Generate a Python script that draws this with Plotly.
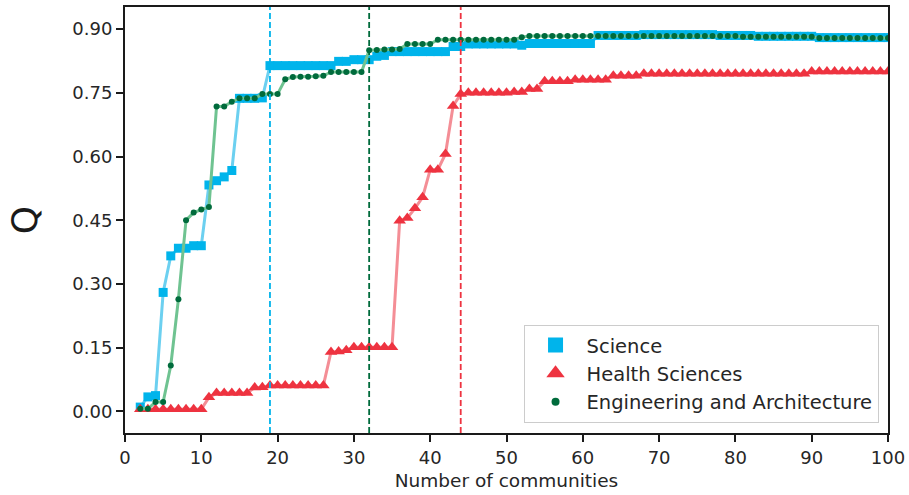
import plotly.graph_objects as go

x_communities = list(range(2, 101))

science = (
    [0.010, 0.034, 0.037, 0.280, 0.366, 0.384, 0.384, 0.390, 0.390,
     0.533, 0.543, 0.552, 0.567, 0.737, 0.737, 0.737, 0.738, 0.814]
    + [0.814] * 8
    + [0.824, 0.824, 0.828, 0.828, 0.828, 0.836, 0.838]
    + [0.847] * 8
    + [0.859, 0.859]
    + [0.865] * 7
    + [0.862]
    + [0.866] * 9
    + [0.885] * 6
    + [0.887] * 10
    + [0.885] * 5
    + [0.883] * 8
    + [0.880] * 10
)

health = (
    [0.005] * 9
    + [0.033]
    + [0.043] * 5
    + [0.056, 0.057]
    + [0.061] * 8
    + [0.140, 0.141, 0.144]
    + [0.151] * 6
    + [0.449, 0.455, 0.478, 0.504, 0.569, 0.569, 0.606, 0.719, 0.747]
    + [0.750] * 6
    + [0.752] * 2
    + [0.759] * 2
    + [0.777] * 4
    + [0.781] * 5
    + [0.790] * 4
    + [0.795] * 22
    + [0.800] * 11
)

engineering = (
    [0.006, 0.006, 0.022, 0.022, 0.108, 0.264, 0.450, 0.468, 0.475, 0.481,
     0.718, 0.718, 0.729, 0.737, 0.737, 0.737, 0.747, 0.747, 0.747,
     0.782, 0.787, 0.788, 0.788, 0.789, 0.790]
    + [0.799] * 5
    + [0.850, 0.851, 0.852, 0.852, 0.853]
    + [0.865] * 4
    + [0.875] * 11
    + [0.881]
    + [0.884] * 28
    + [0.882] * 10
    + [0.879] * 10
)

series_names = ["Science", "Health Sciences", "Engineering and Architecture"]
best_k = [19, 44, 32]  # vertical dashed markers: Science, Health, Engineering

c_sci, c_sci_line = "#00b4eb", "#6cd0f0"
c_hea, c_hea_line = "#ee3340", "#f48e96"
c_eng, c_eng_line = "#006b3c", "#6fc391"

fig = go.Figure()

specs = [
    (science, series_names[0], c_sci, c_sci_line, "square", 9, 15),
    (health, series_names[1], c_hea, c_hea_line, "triangle-up", 11, 17),
    (engineering, series_names[2], c_eng, c_eng_line, "circle", 6, 8),
]

for vals, name, mc, lc, sym, sz, lsz in specs:
    fig.add_trace(go.Scatter(x=x_communities, y=vals, mode="lines",
                             line=dict(color=lc, width=3), showlegend=False,
                             hoverinfo="skip"))
    fig.add_trace(go.Scatter(x=x_communities, y=vals, mode="markers", name=name,
                             showlegend=False,
                             marker=dict(color=mc, symbol=sym, size=sz,
                                         line=dict(width=0))))

# legend entries (larger legend symbols, as in the original)
for vals, name, mc, lc, sym, sz, lsz in specs:
    fig.add_trace(go.Scatter(x=[None], y=[None], mode="markers", name=name,
                             marker=dict(color=mc, symbol=sym, size=lsz,
                                         line=dict(width=0))))

for k, col in zip(best_k, [c_sci, c_hea, c_eng]):
    fig.add_shape(type="line", x0=k, x1=k, y0=0, y1=1, xref="x", yref="paper",
                  line=dict(color=col, width=1.8, dash="6px,3px"))

axis_common = dict(showline=True, linecolor="#1a1a1a", linewidth=2, mirror=True,
                   ticks="outside", ticklen=7, tickwidth=1.5, tickcolor="#1a1a1a",
                   showgrid=False, zeroline=False, automargin=False,
                   tickfont=dict(family="DejaVu Sans", size=18, color="#262626"))

fig.update_layout(
    width=909, height=495,
    margin=dict(l=124.5, r=20.5, t=7.3, b=61.7),
    paper_bgcolor="white", plot_bgcolor="white",
    font=dict(family="DejaVu Sans", color="#262626"),
    xaxis=dict(range=[0, 100], tickvals=list(range(0, 101, 10)),
               title=dict(text="Number of communities",
                          font=dict(family="DejaVu Sans", size=18.5, color="#262626"),
                          standoff=7),
               **axis_common),
    yaxis=dict(range=[-0.051, 0.952], tickvals=[0, 0.15, 0.30, 0.45, 0.60, 0.75, 0.90],
               tickformat=".2f",
               title=dict(text="Q", font=dict(family="DejaVu Sans", size=36, color="#1a1a1a"),
                          standoff=24),
               **axis_common),
    legend=dict(x=0.9876, y=0.024, xanchor="right", yanchor="bottom",
                bgcolor="white", bordercolor="#cccccc", borderwidth=1,
                font=dict(family="DejaVu Sans", size=19.5, color="#262626"),
                itemwidth=52, tracegroupgap=0),
)

fig.write_html("out.html", config={"displayModeBar": False},
               post_script="document.body.style.margin='0';document.body.style.padding='0';")
